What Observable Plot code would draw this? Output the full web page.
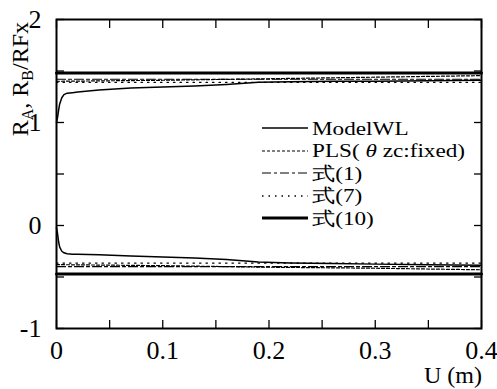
<!DOCTYPE html>
<html><head><meta charset="utf-8">
<script src="https://cdn.jsdelivr.net/npm/d3@7"></script>
<script src="https://cdn.jsdelivr.net/npm/@observablehq/plot@0.6"></script>
<style>
body{margin:0;background:#fff}
#wrap{position:relative;width:497px;height:389px;overflow:hidden}
#wrap svg text{font-family:"Liberation Serif","Times New Roman","DejaVu Serif",serif !important}
#legend{position:absolute;left:262px;top:117px;font-family:"Liberation Serif","Times New Roman","DejaVu Serif",serif;font-size:19px;line-height:19px;color:#000}
#legend .row{height:22.5px;display:flex;align-items:center;white-space:nowrap;overflow:visible}
#legend svg{flex:none;margin-right:4px}
#legend .lbl{display:inline-block;transform:scaleX(1.22);transform-origin:left center}
</style>
</head><body><div id="wrap"><div id="legend"></div></div>
<script>
// ---- data ----
const seriesNames = ["ModelWL", "PLS( θ zc:fixed)", "式(1)", "式(7)", "式(10)"];

const xModel      = [0, 0.001, 0.002, 0.003, 0.005, 0.007, 0.01, 0.015, 0.02, 0.04, 0.07, 0.1, 0.13, 0.16, 0.19, 0.22, 0.26, 0.3, 0.35, 0.4];
const modelTop    = [1.0, 1.05, 1.12, 1.18, 1.24, 1.27, 1.285, 1.29, 1.295, 1.315, 1.335, 1.345, 1.355, 1.37, 1.39, 1.395, 1.4, 1.4, 1.405, 1.41];
const modelBottom = [-0.02, -0.08, -0.16, -0.21, -0.25, -0.265, -0.275, -0.278, -0.28, -0.285, -0.295, -0.305, -0.315, -0.33, -0.355, -0.365, -0.37, -0.375, -0.38, -0.385];

const xPLS      = [0, 0.1, 0.2, 0.3, 0.4];
const plsTop    = [1.40, 1.41, 1.425, 1.44, 1.455];
const plsBottom = [-0.38, -0.39, -0.405, -0.415, -0.43];

const xEq       = [0, 0.4];
const eq1Top    = [1.42, 1.42];
const eq1Bottom = [-0.40, -0.40];
const eq7Top    = [1.39, 1.39];
const eq7Bottom = [-0.365, -0.365];
const eq10Top   = [1.48, 1.48];
const eq10Bottom= [-0.47, -0.47];

const xTickValues = [0, 0.1, 0.2, 0.3, 0.4];
const xMinorTicks = [0, 0.05, 0.1, 0.15, 0.2, 0.25, 0.3, 0.35, 0.4];
const yTickValues = [-1, 0, 1, 2];
const yMinorTicks = [-1, -0.5, 0, 0.5, 1, 1.5, 2];

// ---- styles ----
const styles = {
  "ModelWL":          {strokeWidth: 1.5, dash: null},
  "PLS( θ zc:fixed)": {strokeWidth: 1.2, dash: "3,2"},
  "式(1)":            {strokeWidth: 1.2, dash: "9,3,3,3"},
  "式(7)":            {strokeWidth: 1.3, dash: "1.5,5"},
  "式(10)":           {strokeWidth: 3,   dash: null}
};

function rows(name, xs, top, bottom) {
  const r = [];
  xs.forEach((x, i) => r.push({series: name, branch: "top", x, y: top[i]}));
  xs.forEach((x, i) => r.push({series: name, branch: "bottom", x, y: bottom[i]}));
  return r;
}
const data = {
  "ModelWL": rows("ModelWL", xModel, modelTop, modelBottom),
  "PLS( θ zc:fixed)": rows("PLS( θ zc:fixed)", xPLS, plsTop, plsBottom),
  "式(1)": rows("式(1)", xEq, eq1Top, eq1Bottom),
  "式(7)": rows("式(7)", xEq, eq7Top, eq7Bottom),
  "式(10)": rows("式(10)", xEq, eq10Top, eq10Bottom)
};

const lineMarks = seriesNames.map(n => Plot.line(data[n], {
  x: "x", y: "y", z: "branch", stroke: "black",
  strokeWidth: styles[n].strokeWidth,
  strokeDasharray: styles[n].dash ?? undefined
}));

const chart = Plot.plot({
  width: 497, height: 389,
  marginLeft: 56, marginRight: 16, marginTop: 19, marginBottom: 61,
  style: {fontFamily: "Liberation Serif, Times New Roman, serif", fontSize: "26px", color: "black", background: "white"},
  x: {domain: [0, 0.4]},
  y: {domain: [-1, 2]},
  marks: [
    ...lineMarks,
    Plot.axisX({anchor: "bottom", ticks: xMinorTicks, tickSize: -8, tickFormat: () => "", label: null, strokeWidth: 1.3}),
    Plot.axisX({anchor: "bottom", ticks: xTickValues, tickSize: 0, tickPadding: 12, tickFormat: d => String(d), label: null, stroke: "black", strokeWidth: 0.4}),
    Plot.axisX({anchor: "top", ticks: xMinorTicks, tickSize: -8, tickFormat: () => "", label: null, strokeWidth: 1.3}),
    Plot.axisY({anchor: "left", ticks: yMinorTicks, tickSize: -8, tickFormat: () => "", label: null, strokeWidth: 1.3}),
    Plot.axisY({anchor: "left", ticks: yTickValues, tickSize: 0, tickPadding: 15, tickFormat: d => String(d), label: null, stroke: "black", strokeWidth: 0.4}),
    Plot.axisY({anchor: "right", ticks: yMinorTicks, tickSize: -8, tickFormat: () => "", label: null, strokeWidth: 1.3}),
    Plot.frame({stroke: "black", strokeWidth: 2})
  ]
});

const svg = d3.select(chart);
// y-axis label with subscripts
const yl = svg.append("text")
  .attr("transform", "translate(28,22) rotate(-90)")
  .attr("text-anchor", "end")
  .attr("font-size", 24)
  .attr("fill", "black");
yl.append("tspan").text("R");
yl.append("tspan").attr("font-size", 16).attr("dy", 5).text("A");
yl.append("tspan").attr("dy", -5).text(", R");
yl.append("tspan").attr("font-size", 16).attr("dy", 5).text("B");
yl.append("tspan").attr("dy", -5).text("/RFx");
// x-axis label
svg.append("text")
  .attr("x", 482).attr("y", 383)
  .attr("text-anchor", "end")
  .attr("font-size", 24)
  .attr("fill", "black")
  .text("U (m)");

document.getElementById("wrap").prepend(chart);

// legend
const legend = d3.select("#legend");
seriesNames.forEach(n => {
  const row = legend.append("div").attr("class", "row");
  const s = row.append("svg").attr("width", 46).attr("height", 22);
  s.append("line").attr("x1", 0).attr("x2", 46).attr("y1", 11).attr("y2", 11)
    .attr("stroke", "black").attr("stroke-width", styles[n].strokeWidth)
    .attr("stroke-dasharray", styles[n].dash);
  const t = row.append("span").attr("class", "lbl");
  if (n.includes("θ")) {
    const [a, b] = n.split("θ");
    t.append("span").text(a);
    t.append("span").style("font-style", "italic").text("θ");
    t.append("span").text(b);
  } else t.text(n);
});
</script>
</body></html>
